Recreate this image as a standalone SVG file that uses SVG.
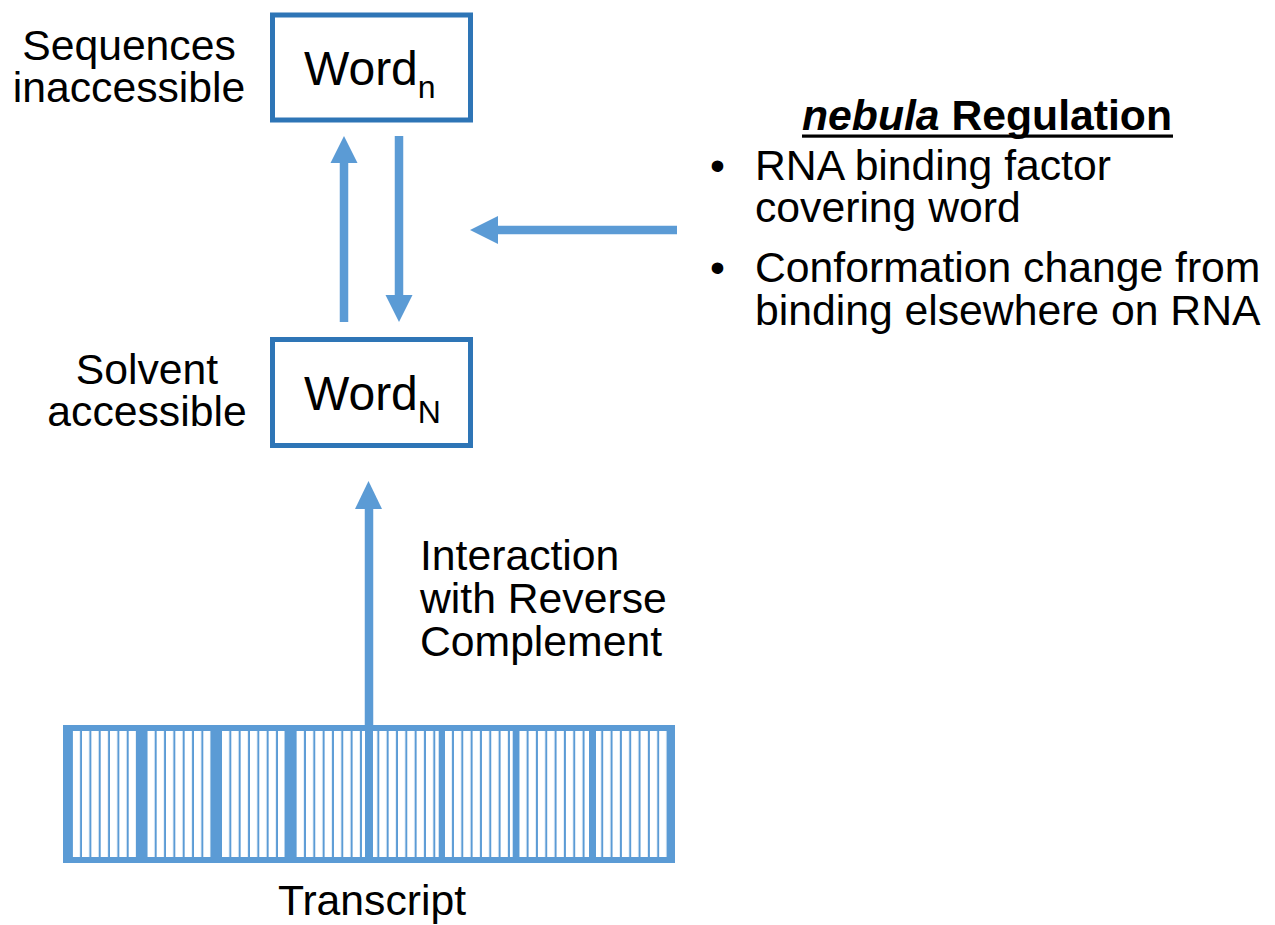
<svg xmlns="http://www.w3.org/2000/svg" width="1275" height="925" viewBox="0 0 1275 925">
<style>
text{font-family:"Liberation Sans",Arial,sans-serif;fill:#000}
.lbl{font-size:42.7px}
.wd{font-size:48px}
.sub{font-size:32px}
.box{fill:#fff;stroke:#2E75B6;stroke-width:5}
.arr{stroke:#5B9BD5;stroke-width:8.5;fill:none}
.hd{fill:#5B9BD5}
.bar{fill:#5B9BD5}
</style>
<defs>
<pattern id="stA" patternUnits="userSpaceOnUse" x="72.7" y="731" width="9.33" height="126"><rect x="0" y="0" width="7.3" height="126" fill="#fff"/></pattern>
<pattern id="stB" patternUnits="userSpaceOnUse" x="379.3" y="731" width="9.33" height="126"><rect x="0" y="0" width="7.3" height="126" fill="#fff"/></pattern>
</defs>
<rect width="1275" height="925" fill="#fff"/>

<g id="transcript">
<rect x="63" y="725" width="612" height="138" class="bar"/>
<rect x="72.7" y="731" width="292.3" height="126" fill="url(#stA)"/>
<rect x="373" y="731" width="294" height="126" fill="url(#stB)"/>
<rect x="136" y="731" width="11.3" height="126" class="bar"/>
<rect x="210.6" y="731" width="10.7" height="126" class="bar"/>
<rect x="284.6" y="731" width="10.7" height="126" class="bar"/>
<rect x="438.7" y="731" width="6.3" height="126" class="bar"/>
<rect x="512.7" y="731" width="6.6" height="126" class="bar"/>
<rect x="589" y="731" width="7" height="126" class="bar"/>
<text class="lbl" x="372" y="915" text-anchor="middle">Transcript</text>
</g>

<g id="word-n">
<rect class="box" x="272.5" y="15" width="198" height="105"/>
<text x="304" y="85"><tspan class="wd">Word</tspan><tspan class="sub" dy="13">n</tspan></text>
</g>

<g id="word-N">
<rect class="box" x="272.5" y="339.5" width="198" height="106"/>
<text x="304" y="410"><tspan class="wd">Word</tspan><tspan class="sub" dy="13">N</tspan></text>
</g>

<g id="label-inaccessible">
<text class="lbl" x="129" y="60" text-anchor="middle">Sequences</text>
<text class="lbl" x="129" y="102" text-anchor="middle">inaccessible</text>
</g>

<g id="label-accessible">
<text class="lbl" x="147" y="384" text-anchor="middle">Solvent</text>
<text class="lbl" x="147" y="426" text-anchor="middle">accessible</text>
</g>

<g id="label-interaction">
<text class="lbl" x="420" y="570">Interaction</text>
<text class="lbl" x="420" y="613">with Reverse</text>
<text class="lbl" x="420" y="656">Complement</text>
</g>

<g id="nebula-regulation">
<text class="lbl" x="987" y="130" text-anchor="middle" font-weight="bold"><tspan font-style="italic">nebula</tspan> Regulation</text>
<rect x="802" y="134.5" width="371" height="3.2" fill="#000"/>
<text class="lbl" x="710" y="180">•</text>
<text class="lbl" x="755" y="180">RNA binding factor</text>
<text class="lbl" x="755" y="222">covering word</text>
<text class="lbl" x="710" y="282">•</text>
<text class="lbl" x="755" y="282">Conformation change from</text>
<text class="lbl" x="755" y="325">binding elsewhere on RNA</text>
</g>

<g id="connectors">
<line class="arr" x1="344" y1="322" x2="344" y2="160"/>
<polygon class="hd" points="344,136 330.5,163 357.5,163"/>
<line class="arr" x1="399" y1="136" x2="399" y2="298"/>
<polygon class="hd" points="399,322 385.5,295 412.5,295"/>
<line class="arr" x1="677" y1="230" x2="494" y2="230"/>
<polygon class="hd" points="470,230 498,216 498,244"/>
<line class="arr" x1="369" y1="728" x2="369" y2="505"/>
<polygon class="hd" points="368.5,481 355,509 382,509"/>
</g>
</svg>
